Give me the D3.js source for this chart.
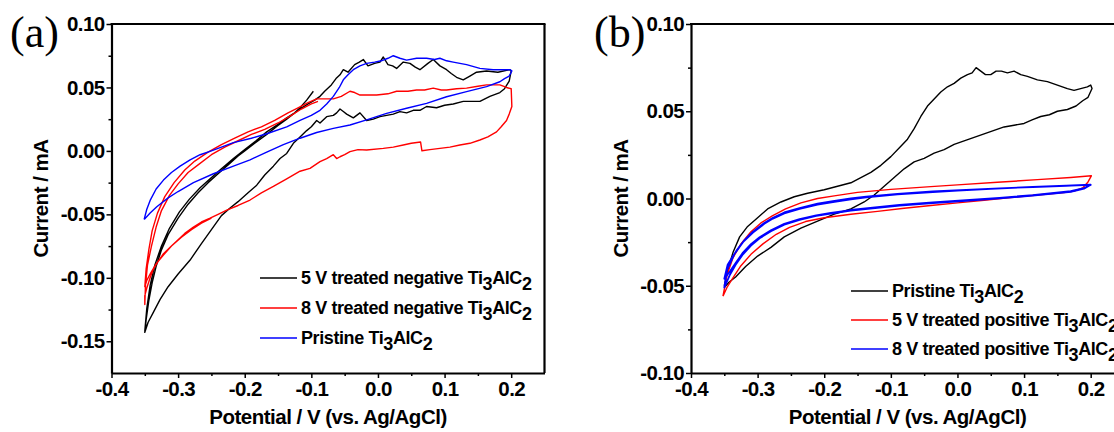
<!DOCTYPE html>
<html>
<head>
<meta charset="utf-8">
<script src="https://cdn.jsdelivr.net/npm/d3@7"></script>
<style>
  html, body { margin: 0; padding: 0; background: #fff; }
  svg { display: block; }
</style>
</head>
<body>
<svg id="chart" width="1114" height="432"></svg>
<script>
// ---------- tick definitions ----------
const xTickValues = [-0.4, -0.3, -0.2, -0.1, 0.0, 0.1, 0.2];
const xTickLabels = ["-0.4", "-0.3", "-0.2", "-0.1", "0.0", "0.1", "0.2"];
const xMinorTicks = [-0.35, -0.25, -0.15, -0.05, 0.05, 0.15];
const yTickValuesA = [0.10, 0.05, 0.00, -0.05, -0.10, -0.15];
const yTickLabelsA = ["0.10", "0.05", "0.00", "-0.05", "-0.10", "-0.15"];
const yMinorTicksA = [0.075, 0.025, -0.025, -0.075, -0.125];
const yTickValuesB = [0.10, 0.05, 0.00, -0.05, -0.10];
const yTickLabelsB = ["0.10", "0.05", "0.00", "-0.05", "-0.10"];
const yMinorTicksB = [0.075, 0.025, -0.025, -0.075];

// ---------- legend labels ----------
const legendA = ["5 V treated negative ", "8 V treated negative ", "Pristine "];
const legendB = ["Pristine ", "5 V treated positive ", "8 V treated positive "];

// ---------- panel (a) data : [potential V, current mA] ----------
const a5VNeg = [
 [-0.235,-0.051],[-0.25,-0.062],[-0.265,-0.073],[-0.282,-0.086],[-0.3,-0.097],[-0.315,-0.107],[-0.327,-0.117],[-0.337,-0.127],[-0.345,-0.135],[-0.35,-0.143],
 [-0.348,-0.133],[-0.344,-0.118],[-0.339,-0.104],[-0.333,-0.091],[-0.325,-0.078],[-0.315,-0.066],[-0.3,-0.053],[-0.285,-0.042],[-0.27,-0.033],
 [-0.255,-0.025],[-0.24,-0.018],[-0.225,-0.011],[-0.21,-0.004],[-0.2,0.0],[-0.185,0.006],[-0.167,0.013],[-0.15,0.02],[-0.137,0.025],
 [-0.12,0.032],[-0.105,0.037],[-0.095,0.04],[-0.087,0.043],[-0.08,0.047],[-0.07,0.052],[-0.063,0.057],[-0.057,0.06],[-0.052,0.064],
 [-0.045,0.062],[-0.035,0.068],[-0.028,0.07],[-0.022,0.072],[-0.015,0.067],[-0.005,0.069],[0.003,0.07],[0.008,0.074],[0.015,0.068],
 [0.022,0.067],[0.028,0.065],[0.038,0.07],[0.048,0.069],[0.056,0.066],[0.063,0.064],[0.075,0.069],[0.083,0.072],[0.093,0.067],
 [0.103,0.064],[0.11,0.061],[0.118,0.058],[0.128,0.056],[0.138,0.059],[0.148,0.062],[0.163,0.063],[0.18,0.062],[0.198,0.064],[0.2,0.063],
 [0.197,0.055],[0.19,0.049],[0.183,0.046],[0.168,0.043],[0.153,0.039],[0.14,0.039],[0.128,0.039],[0.113,0.037],[0.1,0.036],
 [0.088,0.034],[0.073,0.035],[0.063,0.032],[0.053,0.032],[0.043,0.03],[0.033,0.031],[0.023,0.029],[0.013,0.028],[0.003,0.027],
 [-0.007,0.025],[-0.017,0.024],[-0.027,0.03],[-0.037,0.026],[-0.047,0.029],[-0.052,0.031],[-0.057,0.033],[-0.062,0.03],[-0.067,0.028],
 [-0.077,0.027],[-0.087,0.022],[-0.092,0.024],[-0.1,0.019],[-0.107,0.016],[-0.117,0.011],[-0.127,0.006],[-0.137,-0.002],[-0.147,-0.006],
 [-0.157,-0.012],[-0.17,-0.019],[-0.182,-0.027],[-0.195,-0.033],[-0.21,-0.04],[-0.222,-0.045],[-0.235,-0.051],
 [-0.25,-0.062],[-0.265,-0.073],[-0.282,-0.086],[-0.3,-0.097],[-0.315,-0.107],[-0.327,-0.117],[-0.337,-0.127],[-0.345,-0.135],[-0.35,-0.142],
 [-0.347,-0.124],[-0.342,-0.106],[-0.335,-0.09],[-0.325,-0.075],[-0.313,-0.061],[-0.298,-0.048],[-0.283,-0.038],[-0.267,-0.029],
 [-0.252,-0.022],[-0.235,-0.014],[-0.217,-0.006],[-0.2,0.001],[-0.183,0.008],[-0.167,0.015],[-0.15,0.021],[-0.137,0.026],
 [-0.125,0.03],[-0.117,0.034],[-0.107,0.04],[-0.097,0.047]
];
const a8VNeg = [
 [-0.25,-0.053],[-0.265,-0.057],[-0.28,-0.062],[-0.295,-0.068],[-0.31,-0.075],[-0.322,-0.082],[-0.333,-0.089],[-0.341,-0.096],[-0.347,-0.102],[-0.35,-0.107],
 [-0.348,-0.093],[-0.344,-0.078],[-0.339,-0.063],[-0.331,-0.049],[-0.32,-0.036],[-0.306,-0.025],[-0.29,-0.015],[-0.275,-0.008],
 [-0.255,-0.001],[-0.235,0.005],[-0.215,0.01],[-0.195,0.015],[-0.175,0.019],[-0.155,0.024],[-0.135,0.03],[-0.12,0.034],
 [-0.105,0.038],[-0.092,0.041],[-0.08,0.041],[-0.067,0.041],[-0.055,0.043],[-0.042,0.047],[-0.035,0.046],[-0.027,0.044],
 [-0.015,0.044],[-0.002,0.044],[0.015,0.045],[0.028,0.047],[0.045,0.047],[0.058,0.048],[0.07,0.048],[0.083,0.0495],[0.095,0.048],
 [0.103,0.048],[0.118,0.049],[0.133,0.0495],[0.15,0.051],[0.163,0.052],[0.183,0.052],[0.193,0.05],[0.2,0.049],
 [0.201,0.035],[0.197,0.029],[0.193,0.024],[0.185,0.019],[0.178,0.015],[0.165,0.011],[0.153,0.0086],[0.138,0.006],[0.123,0.0047],
 [0.108,0.003],[0.093,0.002],[0.078,0.001],[0.066,0.0001],[0.064,0.007],[0.05,0.006],[0.038,0.0047],[0.023,0.003],[0.008,0.002],
 [-0.017,0.0007],[-0.03,0.001],[-0.042,-0.0006],[-0.05,-0.003],[-0.057,-0.0046],[-0.062,-0.006],[-0.067,-0.003],[-0.077,-0.006],
 [-0.087,-0.0085],[-0.102,-0.0138],[-0.117,-0.016],[-0.137,-0.022],[-0.157,-0.028],[-0.175,-0.033],[-0.192,-0.0387],[-0.21,-0.043],
 [-0.227,-0.0466],[-0.24,-0.05],[-0.252,-0.053],[-0.265,-0.056],[-0.277,-0.06],[-0.29,-0.065],[-0.302,-0.071],[-0.312,-0.076],
 [-0.322,-0.081],[-0.33,-0.087],[-0.337,-0.093],[-0.342,-0.1],[-0.347,-0.108],[-0.35,-0.114],[-0.35,-0.121],
 [-0.349,-0.106],[-0.346,-0.09],[-0.34,-0.075],[-0.333,-0.06],[-0.325,-0.047],[-0.313,-0.035],[-0.3,-0.026],[-0.285,-0.017],
 [-0.27,-0.011],[-0.25,-0.003],[-0.23,0.003],[-0.21,0.008],[-0.19,0.013],[-0.17,0.017],[-0.15,0.022],[-0.13,0.028],
 [-0.115,0.033],[-0.1,0.037],[-0.09,0.039]
];
const aPristine = [
 [-0.351,-0.054],[-0.347,-0.046],[-0.342,-0.039],[-0.333,-0.03],[-0.322,-0.023],[-0.31,-0.017],[-0.297,-0.012],[-0.282,-0.007],
 [-0.267,-0.003],[-0.25,0.0],[-0.235,0.003],[-0.217,0.0065],[-0.19,0.01],[-0.167,0.0135],[-0.137,0.019],[-0.117,0.024],
 [-0.1,0.028],[-0.087,0.032],[-0.077,0.037],[-0.067,0.043],[-0.058,0.05],[-0.052,0.056],[-0.045,0.06],[-0.037,0.064],
 [-0.027,0.067],[-0.017,0.069],[-0.005,0.07],[0.005,0.071],[0.015,0.073],[0.023,0.075],[0.033,0.073],[0.043,0.0715],
 [0.058,0.073],[0.073,0.073],[0.085,0.072],[0.093,0.073],[0.103,0.071],[0.113,0.07],[0.133,0.068],[0.153,0.065],
 [0.173,0.064],[0.188,0.064],[0.198,0.064],[0.201,0.063],
 [0.197,0.059],[0.19,0.057],[0.183,0.0545],[0.163,0.0506],[0.133,0.0467],[0.103,0.0427],[0.073,0.0375],[0.043,0.0336],
 [0.013,0.0296],[-0.017,0.0244],[-0.042,0.0204],[-0.067,0.0178],[-0.092,0.0145],[-0.117,0.01],[-0.142,0.005],[-0.167,-0.001],
 [-0.192,-0.007],[-0.217,-0.012],[-0.247,-0.018],[-0.277,-0.025],[-0.3,-0.032],[-0.315,-0.037],[-0.332,-0.044],[-0.342,-0.049],[-0.351,-0.054]
];

// ---------- panel (b) data ----------
const bPristine = [
 [-0.35,-0.05],[-0.344,-0.04],[-0.337,-0.031],[-0.327,-0.022],[-0.315,-0.016],[-0.3,-0.011],[-0.285,-0.006],[-0.265,-0.002],
 [-0.245,0.001],[-0.225,0.003],[-0.2,0.005],[-0.18,0.007],[-0.16,0.009],[-0.145,0.012],[-0.13,0.015],[-0.115,0.019],
 [-0.1,0.024],[-0.085,0.03],[-0.075,0.034],[-0.065,0.04],[-0.055,0.047],[-0.045,0.053],[-0.035,0.057],[-0.025,0.061],
 [-0.015,0.064],[-0.005,0.066],[0.005,0.069],[0.015,0.071],[0.022,0.072],[0.028,0.075],[0.035,0.073],[0.042,0.071],
 [0.05,0.071],[0.058,0.073],[0.066,0.073],[0.075,0.072],[0.085,0.073],[0.095,0.071],[0.105,0.07],[0.12,0.068],
 [0.135,0.067],[0.15,0.065],[0.165,0.063],[0.175,0.062],[0.185,0.063],[0.195,0.064],[0.2,0.065],[0.202,0.063],
 [0.196,0.058],[0.188,0.056],[0.178,0.053],[0.165,0.051],[0.15,0.05],[0.138,0.048],[0.125,0.047],[0.112,0.045],
 [0.1,0.043],[0.085,0.042],[0.07,0.041],[0.055,0.039],[0.04,0.037],[0.025,0.035],[0.01,0.033],[-0.005,0.031],
 [-0.02,0.028],[-0.035,0.026],[-0.05,0.023],[-0.065,0.021],[-0.08,0.017],[-0.095,0.012],[-0.11,0.007],[-0.125,0.002],
 [-0.14,-0.002],[-0.16,-0.006],[-0.185,-0.009],[-0.21,-0.013],[-0.235,-0.017],[-0.26,-0.022],[-0.28,-0.028],
 [-0.3,-0.033],[-0.318,-0.039],[-0.333,-0.045],[-0.343,-0.048],[-0.35,-0.051]
];
const b5VPos = [
 [-0.352,-0.056],[-0.346,-0.044],[-0.337,-0.034],[-0.325,-0.026],[-0.31,-0.019],[-0.295,-0.014],[-0.278,-0.01],[-0.258,-0.006],
 [-0.235,-0.0025],[-0.21,0.0],[-0.185,0.0015],[-0.15,0.0035],[-0.1,0.0052],[-0.04,0.0068],[0.0,0.0078],[0.06,0.0093],
 [0.12,0.0108],[0.17,0.012],[0.201,0.013],
 [0.196,0.0095],[0.188,0.006],[0.175,0.0042],[0.16,0.0034],[0.12,0.002],[0.08,0.0006],[0.04,-0.001],[0.0,-0.0025],
 [-0.04,-0.004],[-0.08,-0.0056],[-0.12,-0.0074],[-0.16,-0.009],[-0.2,-0.011],[-0.228,-0.0132],[-0.252,-0.0165],
 [-0.272,-0.0205],[-0.292,-0.026],[-0.31,-0.032],[-0.326,-0.039],[-0.338,-0.046],[-0.346,-0.051],[-0.352,-0.056]
];
const b8VPos = [
 [0.0,0.0045],[0.05,0.0055],[0.1,0.0064],[0.15,0.0071],[0.2,0.0078],
 [0.19,0.006],[0.17,0.0042],[0.113,0.0019],[0.063,0.0004],[0.013,-0.001],[-0.037,-0.0023],[-0.087,-0.0037],[-0.12,-0.005],
 [-0.16,-0.0066],[-0.19,-0.0082],[-0.212,-0.0097],[-0.237,-0.0118],[-0.26,-0.0145],[-0.28,-0.0182],[-0.297,-0.0222],
 [-0.31,-0.0262],[-0.322,-0.031],[-0.333,-0.037],[-0.342,-0.042],[-0.35,-0.046],
 [-0.345,-0.038],[-0.332,-0.03],[-0.32,-0.024],[-0.307,-0.019],[-0.29,-0.014],[-0.277,-0.011],[-0.26,-0.008],[-0.237,-0.0055],
 [-0.21,-0.003],[-0.187,-0.0015],[-0.16,0.0],[-0.137,0.001],[-0.09,0.0027],[-0.037,0.004],[0.013,0.005],[0.063,0.0058],
 [0.113,0.0066],[0.163,0.0073],[0.2,0.0079],
 [0.19,0.0056],[0.17,0.0038],[0.113,0.0016],[0.063,0.0001],[0.013,-0.0013],[-0.037,-0.0026],[-0.087,-0.004],[-0.12,-0.0053],
 [-0.16,-0.007],[-0.19,-0.0086],[-0.212,-0.01],[-0.237,-0.0122],[-0.26,-0.015],[-0.28,-0.0188],[-0.297,-0.0228],
 [-0.31,-0.027],[-0.322,-0.032],[-0.333,-0.038],[-0.342,-0.044],[-0.35,-0.051],
 [-0.346,-0.041],[-0.335,-0.032],[-0.322,-0.025],[-0.307,-0.0195],[-0.29,-0.0145],[-0.277,-0.0115],[-0.26,-0.0085],
 [-0.237,-0.006],[-0.21,-0.0035],[-0.187,-0.002],[-0.16,-0.0005],[-0.137,0.0007],[-0.09,0.0024],[-0.037,0.0037],[0.0,0.0045]
];

// ---------- drawing ----------
const svg = d3.select("#chart");
const FONT = "'Liberation Sans', Arial, sans-serif";

function drawPanel(cfg) {
  const x = d3.scaleLinear().domain([-0.4, 0.25]).range([cfg.left, cfg.left + 433]);
  const y = d3.scaleLinear().domain(cfg.yDomain).range([373, 24]);
  const g = svg.append("g");

  // minor ticks
  g.append("g").attr("transform", "translate(0,373)")
    .call(d3.axisBottom(x).tickValues(xMinorTicks).tickFormat("").tickSize(3).tickSizeOuter(0))
    .call(s => s.select(".domain").remove())
    .call(s => s.selectAll("line").attr("stroke-width", 1.5));
  g.append("g").attr("transform", `translate(${cfg.left},0)`)
    .call(d3.axisLeft(y).tickValues(cfg.yMinor).tickFormat("").tickSize(3).tickSizeOuter(0))
    .call(s => s.select(".domain").remove())
    .call(s => s.selectAll("line").attr("stroke-width", 1.5));

  // major axes
  const xa = g.append("g").attr("transform", "translate(0,373)")
    .call(d3.axisBottom(x).tickValues(xTickValues).tickFormat((d, i) => xTickLabels[i]).tickSize(5).tickSizeOuter(0).tickPadding(3));
  xa.select(".domain").attr("stroke-width", 2.2);
  xa.selectAll("line").attr("stroke-width", 1.5);
  xa.selectAll("text").attr("font-size", 20.5).attr("font-family", FONT).attr("font-weight", "bold").attr("letter-spacing", -0.6);

  const ya = g.append("g").attr("transform", `translate(${cfg.left},0)`)
    .call(d3.axisLeft(y).tickValues(cfg.yTicks).tickFormat((d, i) => cfg.yLabels[i]).tickSize(5).tickSizeOuter(0).tickPadding(2));
  ya.select(".domain").attr("stroke-width", 2.2);
  ya.selectAll("line").attr("stroke-width", 1.5);
  ya.selectAll("text").attr("font-size", 20.5).attr("font-family", FONT).attr("font-weight", "bold").attr("letter-spacing", -0.6);

  // frame top and right
  g.append("line").attr("x1", x.range()[0] - 1).attr("x2", x.range()[1] + 1).attr("y1", y.range()[1]).attr("y2", y.range()[1])
    .attr("stroke", "#000").attr("stroke-width", 2.2);
  g.append("line").attr("x1", x.range()[1]).attr("x2", x.range()[1]).attr("y1", y.range()[1]).attr("y2", y.range()[0])
    .attr("stroke", "#000").attr("stroke-width", 2.2);

  // curves
  const line = d3.line().x(d => x(d[0])).y(d => y(d[1]));
  cfg.series.forEach(s => {
    g.append("path").datum(s.data).attr("d", line)
      .attr("fill", "none").attr("stroke", s.color).attr("stroke-width", s.width || 1.4)
      .attr("stroke-linejoin", "round");
  });

  // axis titles
  g.append("text").attr("x", (x.range()[0] + x.range()[1]) / 2).attr("y", 424)
    .attr("text-anchor", "middle").attr("font-family", FONT).attr("font-weight", "bold")
    .attr("font-size", 20.5).attr("letter-spacing", -0.5).text("Potential / V (vs. Ag/AgCl)");
  g.append("text").attr("transform", `translate(${cfg.yTitleX},${(24 + 373) / 2}) rotate(-90)`)
    .attr("text-anchor", "middle").attr("font-family", FONT).attr("font-weight", "bold")
    .attr("font-size", 20.5).attr("letter-spacing", -0.5).text("Current / mA");

  // panel label
  g.append("text").attr("x", cfg.labelX).attr("y", 47).attr("font-family", "'Liberation Serif', 'Times New Roman', serif")
    .attr("font-size", 44).text(cfg.label);

  // legend
  cfg.legend.forEach((lab, i) => {
    const yy = cfg.legendY + i * cfg.legendStep;
    g.append("line").attr("x1", cfg.legendX).attr("x2", cfg.legendX + 37).attr("y1", yy).attr("y2", yy)
      .attr("stroke", cfg.series[i].color).attr("stroke-width", 1.6);
    const t = g.append("text").attr("x", cfg.legendX + 41).attr("y", yy + 6)
      .attr("font-family", FONT).attr("font-weight", "bold").attr("font-size", 18).attr("letter-spacing", -0.4);
    t.append("tspan").text(lab + "Ti");
    t.append("tspan").attr("dy", 6).text("3");
    t.append("tspan").attr("dy", -6).text("AlC");
    t.append("tspan").attr("dy", 6).text("2");
  });
}

drawPanel({
  left: 111.5, yDomain: [-0.175, 0.10], yTicks: yTickValuesA, yLabels: yTickLabelsA, yMinor: yMinorTicksA,
  yTitleX: 48, label: "(a)", labelX: 10,
  legend: legendA, legendX: 260, legendY: 278, legendStep: 30,
  series: [
    { data: a5VNeg, color: "#000000" },
    { data: a8VNeg, color: "#ff0000" },
    { data: aPristine, color: "#0000ff" }
  ]
});

drawPanel({
  left: 691, yDomain: [-0.10, 0.10], yTicks: yTickValuesB, yLabels: yTickLabelsB, yMinor: yMinorTicksB,
  yTitleX: 628, label: "(b)", labelX: 594,
  legend: legendB, legendX: 851, legendY: 291, legendStep: 29,
  series: [
    { data: bPristine, color: "#000000" },
    { data: b5VPos, color: "#ff0000" },
    { data: b8VPos, color: "#0000ff", width: 1.8 }
  ]
});
</script>
</body>
</html>
